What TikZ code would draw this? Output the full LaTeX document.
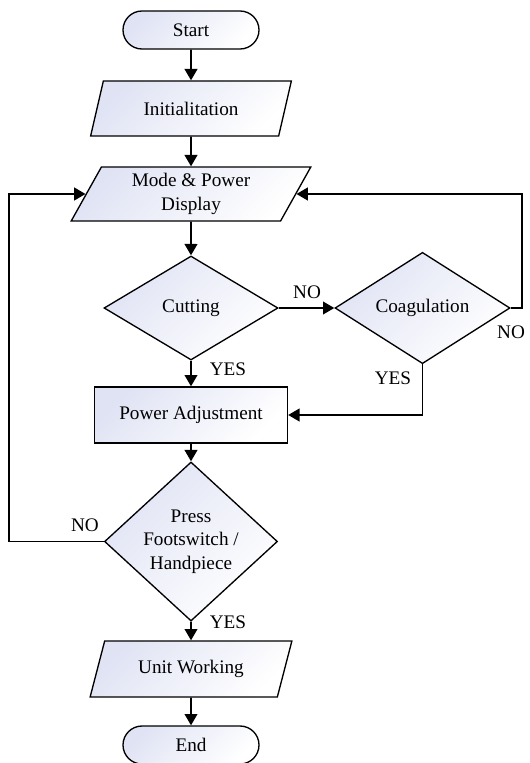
\documentclass[tikz,border=0pt]{standalone}
\usepackage{fontspec}
\setmainfont{Liberation Serif}
\usetikzlibrary{arrows.meta,shapes.geometric,shapes.misc}
\definecolor{boxfill}{RGB}{224,227,244}
\tikzset{
  box/.style={draw, line width=1pt, top color=boxfill, bottom color=white, shading angle=45,
    font=\fontsize{14.4}{17.6}\selectfont, align=center, inner sep=0pt},
  term/.style={box, rounded rectangle, minimum width=102pt, minimum height=28.5pt},
  io/.style={box, trapezium, trapezium left angle=63, trapezium right angle=117, trapezium stretches=true},
  proc/.style={box, rectangle, minimum width=144.75pt, minimum height=42pt},
  decide/.style={box, diamond},
  flow/.style={line width=1.4pt, -{Triangle[length=8.5pt,width=9.5pt]}},
  lbl/.style={font=\fontsize{14.4}{17.6}\selectfont, inner sep=0pt}
}
\begin{document}
\begin{tikzpicture}[x=0.75pt,y=0.75pt,yscale=-1,xscale=1]
\useasboundingbox (0,0) rectangle (530,763);
% blocks
\node[term] (start) at (191,30) {Start};
\node[io, minimum width=151.5pt, minimum height=41.25pt] (init) at (191,108.5) {Initialitation};
\node[io, trapezium left angle=64, trapezium right angle=116, minimum width=180pt, minimum height=40.5pt] (mode) at (191,194) {Mode \& Power\\Display};
\node[decide, minimum width=130.5pt, minimum height=78pt] (cut) at (191,308) {Cutting};
\node[decide, minimum width=131.25pt, minimum height=78.75pt] (coag) at (422.5,308) {Coagulation};
\node[proc] (power) at (191,415) {Power Adjustment};
\node[decide, minimum width=129.75pt, minimum height=99.75pt] (press) at (191,541.5) {Press\\Footswitch /\\Handpiece};
\node[io, minimum width=151.5pt, minimum height=42pt] (unit) at (191,669) {Unit Working};
\node[term] (end) at (191,745) {End};
% labels
\node[lbl] (noA) at (307,292) {NO};
\node[lbl] (noB) at (511,332) {NO};
\node[lbl] (noC) at (85,525) {NO};
\node[lbl] (yesA) at (228,369) {YES};
\node[lbl] (yesB) at (393,378) {YES};
\node[lbl] (yesC) at (228,622) {YES};
% connectors
\coordinate (loopL) at (9,194);
\coordinate (loopR) at (522,194);
\draw[flow] (start) -- (init);
\draw[flow] (init) -- (mode);
\draw[flow] (mode) -- (cut);
\draw[flow] (cut) -- (coag);
\draw[flow] (cut) -- (power);
\draw[flow] (coag.south) |- (power.east);
\draw[flow] (coag.east) -| (loopR) -- (mode.right side);
\draw[flow] (power) -- (press);
\draw[flow] (press.west) -| (loopL) -- (mode.left side);
\draw[flow] (press) -- (unit);
\draw[flow] (unit) -- (end);
\end{tikzpicture}
\end{document}
